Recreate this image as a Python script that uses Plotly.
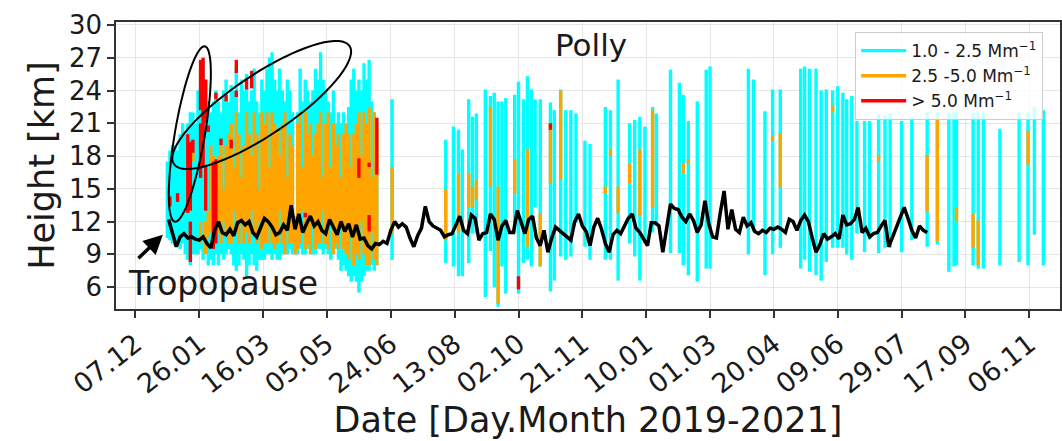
import numpy as np
import pandas as pd
import plotly.graph_objects as go

# ---------------- data ----------------
tick_dates = ["2019-12-07", "2020-01-26", "2020-03-16", "2020-05-05", "2020-06-24",
              "2020-08-13", "2020-10-02", "2020-11-21", "2021-01-10", "2021-03-01",
              "2021-04-20", "2021-06-09", "2021-07-29", "2021-09-17", "2021-11-06"]
tick_labels = ["07.12", "26.01", "16.03", "05.05", "24.06", "13.08", "02.10", "21.11",
               "10.01", "01.03", "20.04", "09.06", "29.07", "17.09", "06.11"]
y_ticks = [6, 9, 12, 15, 18, 21, 24, 27, 30]

# dense campaign (every second day from 2020-01-01)
dense_dates = pd.date_range("2020-01-01", periods=83, freq="2D")
dense_cyan_lo = [10.5, 10.3, 10, 9.8, 10, 9.5, 10, 9, 8.5, 8, 9, 9, 9, 9.5, 8.5, 9, 8,
                 8.5, 8, 9, 8, 9, 8.5, 9, 9.5, 9, 8, 7.5, 8, 9, 8.5, 7, 8, 9, 8, 7.5,
                 8.5, 8.5, 8.5, 9, 9, 8.5, 9, 8.5, 8.5, 9, 9.5, 9, 9.5, 9, 9, 9, 9.5,
                 9, 9, 9.5, 9.5, 9, 9, 9.5, 9.5, 9, 9.5, 9, 8.5, 9, 9.5, 8.5, 7.5, 8,
                 7.5, 7, 6.5, 7, 6.5, 5.5, 6.5, 7, 7.5, 7.5, 8, 7.5, 8]
dense_cyan_hi = [17.5, 18.5, 19, 19, 18.5, 20, 21, 20, 21, 22, 22, 21, 24, 26, 27, 25,
                 23, 22, 23, 24, 23, 22, 24, 25, 23, 24.5, 24, 26, 22, 25, 24, 25.5, 23,
                 24, 26, 23, 22, 25, 24, 26, 27, 27.5, 25, 24, 26, 24, 23, 25, 24, 22,
                 12.5, 22, 26, 23, 25, 24, 23, 24, 26, 25, 27.5, 25, 24, 23, 22, 24, 21,
                 22, 21, 22, 21, 22.5, 25, 26, 24, 25, 24, 26.5, 25, 26.8, 23, 22, 21.5]
dense_orange_lo = [None] * 10 + [17.5, None, None, 10, None, 9, 10.5,
                   11, 10, 13, 11, 10, 12, 11, 10, 10, 13, 11, 10, 12, 10, 11, 10, 13,
                   11, 10, 12, 9.5, 10, 10, 12, 10, 9.5, 10, 13, 10, 9, 12, 10, 10, 9,
                   9.5, 10, 13, 9.5, 10, 9, 12, 9.5, 10, 10, 13, 10, 9.5, 12, 9, 10,
                   9.5, 12, 9.5, 9, 8.5, 11, 8, 9, 8.5, 12, 9, 8, 8, 11, 8.5, 8]
dense_orange_hi = [None] * 10 + [18.5, None, None, 12, None, 12, 13,
                   19, 18, 16, 18, 19, 15, 19, 20, 21, 17, 22, 20, 16, 19, 22, 20, 18,
                   22, 20, 15, 22, 21, 22, 17, 22, 21, 20.5, 18, 21, 22, 16, 20, 19, 12,
                   21, 22, 17, 22, 20, 21, 18, 20, 21, 22, 16, 21, 22, 17, 21, 19,
                   20, 16, 20, 21, 20, 17, 20, 21, 22, 18, 22, 21, 22.5, 16, 22, 21]

# sparse observation days
sparse_dates = ["2020-06-25", "2020-08-06", "2020-08-12", "2020-08-16", "2020-08-19",
                "2020-08-24", "2020-08-27", "2020-08-30", "2020-09-06", "2020-09-10",
                "2020-09-13", "2020-09-16", "2020-09-19", "2020-09-22", "2020-09-29",
                "2020-10-02", "2020-10-06", "2020-10-09", "2020-10-12", "2020-10-15",
                "2020-10-19", "2020-10-27", "2020-10-30", "2020-11-04", "2020-11-08",
                "2020-11-12", "2020-11-16", "2020-11-23", "2020-11-27", "2020-12-09",
                "2020-12-13", "2020-12-19", "2020-12-28", "2021-01-01", "2021-01-05",
                "2021-01-09", "2021-01-15", "2021-01-18", "2021-01-29", "2021-02-05",
                "2021-02-08", "2021-02-12", "2021-02-19", "2021-02-26", "2021-03-01",
                "2021-03-31", "2021-04-04", "2021-04-13", "2021-04-19", "2021-04-25",
                "2021-05-11", "2021-05-14", "2021-05-18", "2021-05-23", "2021-05-27",
                "2021-05-31", "2021-06-05", "2021-06-09", "2021-06-13", "2021-06-16",
                "2021-06-20", "2021-06-24", "2021-06-30", "2021-07-04", "2021-07-11",
                "2021-07-16", "2021-07-20", "2021-07-29", "2021-08-06", "2021-08-18",
                "2021-08-26", "2021-09-04", "2021-09-08", "2021-09-10", "2021-09-23",
                "2021-09-27", "2021-10-01", "2021-10-14", "2021-10-29", "2021-11-05",
                "2021-11-10", "2021-11-17"]
sparse_cyan_lo = [8.5, 8.2, 7.9, 7.0, 7.0, 8.2, 10.9, 10.9, 5.1, 9.3, 6.0, 4.2, 7.9, 5.4,
                  10.9, 5.4, 8.2, 8.5, 7.9, 13.3, 7.9, 5.6, 6.6, 8.8, 8.5, 8.8, 11.9, 9.7,
                  8.5, 8.5, 8.5, 6.6, 10.0, 8.8, 6.6, 10.0, 11.0, 11.6, 9.1, 9.1, 8.0,
                  7.1, 6.5, 7.7, 7.7, 9.0, 11.1, 7.1, 9.0, 9.6, 7.7, 8.5, 7.4, 7.1, 6.6,
                  8.3, 9.6, 9.6, 9.6, 9.0, 8.5, 10.9, 9.2, 10.4, 9.1, 9.6, 9.6, 9.2, 10.3,
                  9.7, 9.9, 7.4, 7.9, 8.0, 8.0, 7.7, 7.7, 8.0, 8.3, 8.0, 10.8, 8.0]
sparse_cyan_hi = [23.2, 19.5, 20.7, 20.4, 18.6, 23.2, 21.6, 21.9, 24.1, 23.5, 23.8, 23.0,
                  23.0, 23.3, 23.6, 24.8, 23.2, 25.3, 24.1, 23.2, 23.2, 22.9, 22.2, 24.1,
                  22.2, 22.2, 21.9, 19.4, 19.1, 22.5, 22.2, 25.0, 21.0, 21.3, 21.6, 20.7,
                  22.5, 21.9, 25.9, 24.7, 23.6, 21.2, 23.0, 25.9, 26.2, 26.0, 25.0, 22.1,
                  24.1, 24.1, 26.0, 26.2, 26.0, 26.0, 24.0, 24.1, 24.0, 24.4, 23.8, 23.2,
                  23.5, 21.2, 21.2, 21.2, 21.8, 21.7, 21.9, 21.2, 21.6, 22.0, 22.0, 22.0,
                  22.0, 22.0, 22.0, 22.0, 22.0, 20.5, 22.0, 22.0, 22.5, 22.2]
sparse_orange_lo = [10.9, 10.3, None, 11.0, None, 13.3, 13.3, 14.0, None, 15.2, None, 4.5,
                    None, None, 14.6, None, None, 9.7, None, None, 7.9, 15.5, None, 15.8,
                    None, None, None, None, None, 14.6, 18.0, 12.8, 15.5, None, 12.5, None,
                    13.3, None, None, None, 16.4, 17.3, None, None, None, None, None, None,
                    19.4, 15.1, None, None, None, None, None, None, 22.0, None, None, None,
                    None, None, None, None, 17.5, None, None, None, None, 12.9, 10.2, None,
                    None, 12.0, 9.6, 8.0, None, None, None, 17.2, None, None]
sparse_orange_hi = [17.0, 14.9, None, 16.4, None, 16.4, 15.2, 15.8, None, 22.5, None, 15.2,
                    None, None, 17.7, None, None, 18.6, None, None, 12.8, 21.0, None, 24.0,
                    None, None, None, None, None, 15.2, 18.6, 15.2, 17.3, None, 18.6, None,
                    22.2, None, None, None, 17.3, 17.7, None, None, None, None, None, None,
                    19.9, 20.1, None, None, None, None, None, None, 22.6, None, None, None,
                    None, None, None, None, 18.1, None, None, None, None, 18.1, 21.5, None,
                    None, 13.3, 12.7, 12.1, None, None, None, 20.3, None, None]

# > 5.0 Mm-1 segments
red_dates = ["2020-01-03", "2020-01-09", "2020-01-17", "2020-01-19", "2020-01-19",
             "2020-01-21", "2020-01-27", "2020-01-27", "2020-01-29", "2020-01-31",
             "2020-01-31", "2020-02-02", "2020-02-06", "2020-02-08", "2020-02-08",
             "2020-02-12", "2020-02-16", "2020-02-20", "2020-02-24", "2020-02-24",
             "2020-03-03", "2020-03-07", "2020-04-18", "2020-05-30", "2020-06-07",
             "2020-06-07", "2020-06-13", "2020-10-02", "2020-10-27"]
red_lo = [13.4, 13.8, 12.8, 8.3, 13.0, 18.3, 22.2, 16.0, 17.0, 21.0, 13.0, 20.2, 9.5,
          10.0, 23.2, 19.0, 23.0, 18.7, 23.4, 25.6, 24.1, 24.2, 12.4, 16.0, 17.0, 11.1,
          16.3, 5.8, 20.4]
red_hi = [14.3, 14.6, 20.0, 12.0, 19.3, 19.5, 26.8, 21.0, 27.0, 25.0, 17.0, 20.8, 17.5,
          17.7, 23.8, 19.6, 23.6, 19.5, 24.0, 26.8, 25.0, 25.8, 12.8, 17.8, 17.4, 12.6,
          21.5, 7.0, 21.0]

# tropopause height, every 3rd day
trop_dates = pd.date_range("2020-01-02", periods=199, freq="3D")
trop_height = [12.2, 10.8, 9.7, 10.6, 10.9, 10.5, 10.6, 10.4, 10.3, 10.6,
               10.0, 9.6, 11.2, 12.0, 11.0, 10.8, 11.3, 10.7, 11.9, 12.1,
               11.7, 12.0, 11.0, 10.6, 11.4, 12.3, 12.0, 11.5, 10.8, 11.0,
               11.7, 11.2, 13.5, 11.3, 12.7, 11.0, 11.8, 12.5, 11.6, 12.0,
               11.2, 10.9, 12.2, 11.4, 10.8, 12.0, 11.1, 11.8, 10.6, 11.7,
               10.4, 10.5, 9.8, 9.5, 10.0, 9.9, 10.2, 10.0, 11.2, 12.0,
               11.5, 11.8, 11.5, 10.5, 9.7, 10.7, 11.4, 13.4, 12.0, 11.6,
               11.4, 11.2, 10.6, 10.8, 10.9, 11.8, 12.5, 11.2, 10.9, 12.6,
               12.3, 10.3, 10.9, 11.0, 12.7, 12.2, 10.3, 11.6, 12.1, 11.0,
               11.0, 13.0, 12.0, 10.9, 12.2, 12.5, 10.5, 9.8, 11.2, 9.2,
               10.5, 11.5, 11.2, 10.9, 10.6, 10.3, 12.0, 12.7, 11.6, 11.1,
               9.8, 11.5, 12.3, 11.3, 10.0, 9.2, 10.8, 11.2, 10.9, 11.6,
               12.3, 12.7, 11.4, 11.0, 10.4, 9.8, 11.9, 11.9, 11.6, 9.2,
               11.4, 13.6, 13.2, 13.1, 12.4, 12.0, 12.7, 12.1, 11.0, 11.7,
               13.9, 11.8, 10.6, 10.5, 12.8, 14.8, 11.3, 13.1, 11.3, 11.0,
               12.4, 11.6, 11.9, 11.1, 10.9, 11.2, 11.0, 11.4, 11.3, 11.5,
               11.3, 11.0, 12.2, 12.0, 11.2, 12.1, 12.6, 12.0, 10.5, 9.2,
               9.9, 10.9, 10.4, 10.6, 10.9, 10.4, 12.6, 11.7, 11.8, 12.2,
               13.3, 11.0, 11.4, 10.6, 10.9, 11.0, 11.6, 12.1, 9.7, 10.6,
               11.6, 12.4, 13.3, 12.3, 11.2, 10.5, 11.6, 11.2, 11.0]

# ---------------- helpers ----------------
def segments(dates, lo, hi):
    xs, ys = [], []
    for d, a, b in zip(dates, lo, hi):
        if a is None or b is None:
            continue
        d = pd.Timestamp(d)
        xs += [d, d, None]
        ys += [a, b, None]
    return xs, ys

all_dates = list(dense_dates) + [pd.Timestamp(d) for d in sparse_dates]
cx, cy = segments(all_dates, dense_cyan_lo + sparse_cyan_lo, dense_cyan_hi + sparse_cyan_hi)
ox, oy = segments(all_dates, dense_orange_lo + sparse_orange_lo,
                  dense_orange_hi + sparse_orange_hi)
rx, ry = segments(red_dates, red_lo, red_hi)

LW = 3.4
fig = go.Figure()
fig.add_trace(go.Scatter(x=cx, y=cy, mode="lines", line=dict(color="#00ffff", width=LW),
                         name="1.0 - 2.5 Mm<sup>−1</sup>", connectgaps=False))
fig.add_trace(go.Scatter(x=ox, y=oy, mode="lines", line=dict(color="#ffa500", width=LW),
                         name="2.5 -5.0 Mm<sup>−1</sup>", connectgaps=False))
fig.add_trace(go.Scatter(x=rx, y=ry, mode="lines", line=dict(color="#ff0000", width=LW),
                         name="> 5.0 Mm<sup>−1</sup>", connectgaps=False))
fig.add_trace(go.Scatter(x=trop_dates, y=trop_height, mode="lines",
                         line=dict(color="black", width=3.5), showlegend=False))

# ---------------- layout ----------------
W, H = 1062, 441
ML, MR, MT, MB = 116, 0, 22, 132
PW, PH = W - ML - MR, H - MT - MB


def ellipse_path(cxp, cyp, a, b, ux, uy):
    n = np.hypot(ux, uy)
    ux, uy = ux / n, uy / n
    vx, vy = -uy, ux
    pts = []
    for t in np.linspace(0, 2 * np.pi, 73):
        X = cxp + a * np.cos(t) * ux + b * np.sin(t) * vx
        Y = cyp + a * np.cos(t) * uy + b * np.sin(t) * vy
        pts.append(((X - ML) / PW, (H - MB - Y) / PH))
    return "M " + " L ".join(f"{p[0]:.4f},{p[1]:.4f}" for p in pts) + " Z"

shapes = [
    dict(type="path", xref="paper", yref="paper",
         path=ellipse_path(190, 134, 89, 15, 30, -175),
         line=dict(color="black", width=2)),
    dict(type="path", xref="paper", yref="paper",
         path=ellipse_path(262, 105, 106, 30, 176, -118),
         line=dict(color="black", width=2)),
]

FONT = "DejaVu Sans"
TXT = "#1a1a1a"
fig.update_layout(
    width=W, height=H,
    margin=dict(l=ML, r=MR, t=MT, b=MB, pad=0),
    paper_bgcolor="white", plot_bgcolor="white",
    font=dict(family=FONT, color=TXT),
    shapes=shapes,
    showlegend=True,
    legend=dict(x=0.783, y=0.965, xanchor="left", yanchor="top",
                bgcolor="rgba(255,255,255,0.8)", bordercolor="#cccccc", borderwidth=1,
                font=dict(size=17, family=FONT), itemwidth=45, tracegroupgap=0),
    annotations=[
        dict(text="Polly", xref="paper", yref="paper", x=0.503, y=0.92,
             xanchor="center", yanchor="middle", showarrow=False,
             font=dict(size=31, family=FONT, color=TXT)),
        dict(text="Tropopause", xref="paper", yref="paper", x=0.113, y=0.09,
             xanchor="center", yanchor="middle", showarrow=False,
             font=dict(size=33, family=FONT, color=TXT)),
        dict(text="", x=pd.Timestamp("2019-12-28 12:00"), y=10.8, xref="x", yref="y",
             showarrow=True, ax=-26, ay=25, arrowhead=2, arrowsize=1.1,
             arrowwidth=3.5, arrowcolor="black"),
    ],
)
fig.update_xaxes(
    range=[pd.Timestamp("2019-11-21 18:43"), pd.Timestamp("2021-11-30 01:00")],
    tickmode="array", tickvals=[pd.Timestamp(d) for d in tick_dates], ticktext=tick_labels,
    tickangle=-38, tickfont=dict(size=27, family=FONT, color=TXT),
    ticks="outside", ticklen=7, tickwidth=1.5, tickcolor="#333",
    showline=True, linecolor="#333", linewidth=1.5, mirror=True,
    showgrid=True, gridcolor="#e6e6e6", gridwidth=1, zeroline=False,
    title=dict(text="Date [Day.Month 2019-2021]", font=dict(size=35, family=FONT,
               color=TXT), standoff=4),
)
fig.update_yaxes(
    range=[4.0, 30.27], tickmode="array", tickvals=y_ticks,
    tickfont=dict(size=26, family=FONT, color=TXT),
    ticks="outside", ticklen=7, tickwidth=1.5, tickcolor="#333",
    showline=True, linecolor="#333", linewidth=1.5, mirror=True,
    showgrid=True, gridcolor="#e6e6e6", gridwidth=1, zeroline=False,
    title=dict(text="Height [km]", font=dict(size=35, family=FONT, color=TXT),
               standoff=4),
)

fig.write_html("out.html")
